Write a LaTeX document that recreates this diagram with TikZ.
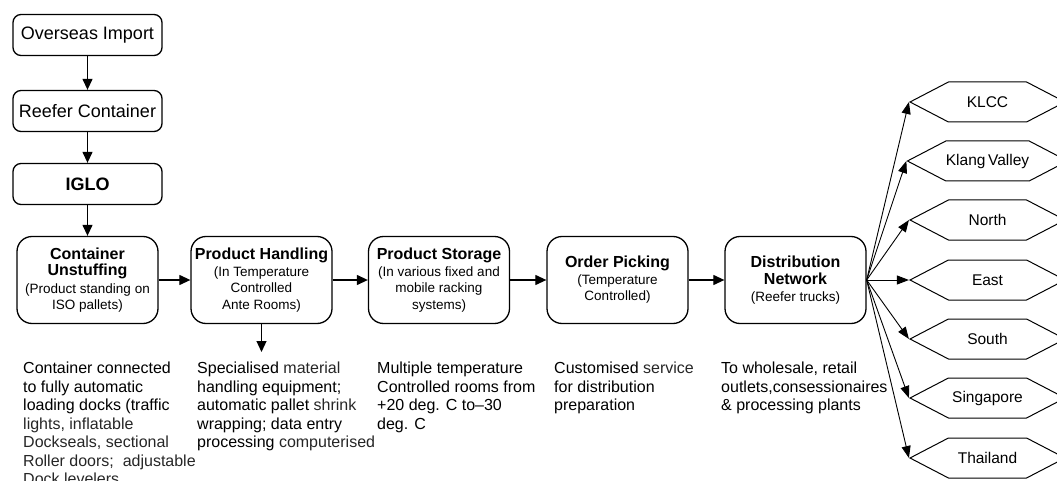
\documentclass[tikz,border=0pt]{standalone}
\usepackage{fontspec}
\setmainfont{Liberation Sans}
\usetikzlibrary{arrows.meta, shapes.symbols}
\colorlet{litetext}{black!85}

\begin{document}
\begin{tikzpicture}[x=1pt, y=-1pt,
    topbox/.style={draw, line width=1.3pt, rounded corners=8pt, minimum width=149pt,
                   minimum height=41pt, font=\fontsize{18}{20}\selectfont},
    stepbox/.style={draw, line width=1.3pt, rounded corners=15pt, minimum width=141pt,
                    minimum height=87pt, align=center, inner sep=1pt,
                    font=\fontsize{13.5}{16.5}\selectfont},
    hexa/.style={draw, line width=1pt, signal, signal to=west and east,
                 signal pointer angle=55, minimum width=155pt, minimum height=40pt,
                 inner sep=0pt, font=\fontsize{15.5}{17}\selectfont},
    note/.style={anchor=north west, align=left, inner sep=0pt,
                 font=\fontsize{16}{18.5}\selectfont},
    arr/.style={-{Triangle[length=11pt, width=10pt]}, line width=1.2pt},
    thinarr/.style={-{Triangle[length=12pt, width=9pt]}, line width=0.9pt}
  ]
    \useasboundingbox (0,0) rectangle (1057,481);

    % Import chain
    \node[topbox] (imp)   at (87.5, 35)  {Overseas Import};
    \node[topbox] (reefer) at (87.5, 111) {Reefer Container};
    \node[topbox, font=\fontsize{18}{20}\selectfont\bfseries] (iglo) at (87.5, 184) {IGLO};

    % Process row
    \node[stepbox] (unstuff) at (87.5, 280)
      {{\fontsize{16}{17}\selectfont\bfseries Container}\\
       {\fontsize{16}{17}\selectfont\bfseries Unstuffing}\\[1pt]
       (Product standing on\\ ISO pallets)};
    \node[stepbox] (handle) at (261.5, 280)
      {{\fontsize{16}{17}\selectfont\bfseries Product Handling}\\
       (In Temperature\\ Controlled\\ Ante Rooms)};
    \node[stepbox] (store) at (439, 280)
      {{\fontsize{16}{17}\selectfont\bfseries Product Storage}\\
       (In various fixed and\\ mobile racking\\ systems)};
    \node[stepbox] (pick) at (617.5, 280)
      {{\fontsize{16}{17}\selectfont\bfseries Order Picking}\\
       (Temperature\\ Controlled)};
    \node[stepbox] (distrib) at (795.5, 280)
      {{\fontsize{16}{17}\selectfont\bfseries Distribution}\\[1pt]
       {\fontsize{16}{17}\selectfont\bfseries Network}\\
       (Reefer trucks)};
    \coordinate (hdrop) at (261.5, 352);

    % Destinations
    \node[hexa] (klcc)  at (987.5, 102) {KLCC};
    \node[hexa] (klang) at (987.5, 161) {Klang\,Valley};
    \node[hexa] (north) at (987.5, 220) {North};
    \node[hexa] (east)  at (987.5, 280) {East};
    \node[hexa] (south) at (987.5, 339) {South};
    \node[hexa] (sing)  at (987.5, 398) {Singapore};
    \node[hexa] (thai)  at (987.5, 458) {Thailand};

    % Notes under the row
    \node[note] (n1) at (23, 362) {Container connected\\ to fully automatic\\
      loading docks (traffic\\ \textcolor{litetext}{lights, inflatable}\\
      \textcolor{litetext}{Dockseals, sectional}\\
      \textcolor{litetext}{Roller doors;\ \ adjustable}\\
      \textcolor{litetext}{Dock levelers}};
    \node[note] (n2) at (197, 362) {Specialised \textcolor{litetext}{material}\\
      handling equipment;\\ automatic pallet \textcolor{litetext}{shrink}\\
      wrapping; data entry\\ processing \textcolor{litetext}{computerised}};
    \node[note] (n3) at (377, 362) {Multiple temperature\\ Controlled rooms from\\
      +20 deg. C to–30\\ deg. C};
    \node[note] (n4) at (554, 362) {Customised \textcolor{litetext}{service}\\
      for distribution\\ preparation};
    \node[note] (n5) at (721, 362) {To wholesale, retail\\
      outlets,consessionaires\\ \& processing plants};

    % Arrows
    \draw[arr] (imp) -- (reefer);
    \draw[arr] (reefer) -- (iglo);
    \draw[arr] (iglo) -- (unstuff);
    \draw[arr] (unstuff) -- (handle);
    \draw[arr] (handle) -- (store);
    \draw[arr] (store) -- (pick);
    \draw[arr] (pick) -- (distrib);
    \draw[arr] (handle.south) -- (hdrop);
    \foreach \d in {klcc, klang, north, east, south, sing, thai}
      \draw[thinarr] (distrib.east) -- (\d.west);
  \end{tikzpicture}
\end{document}
